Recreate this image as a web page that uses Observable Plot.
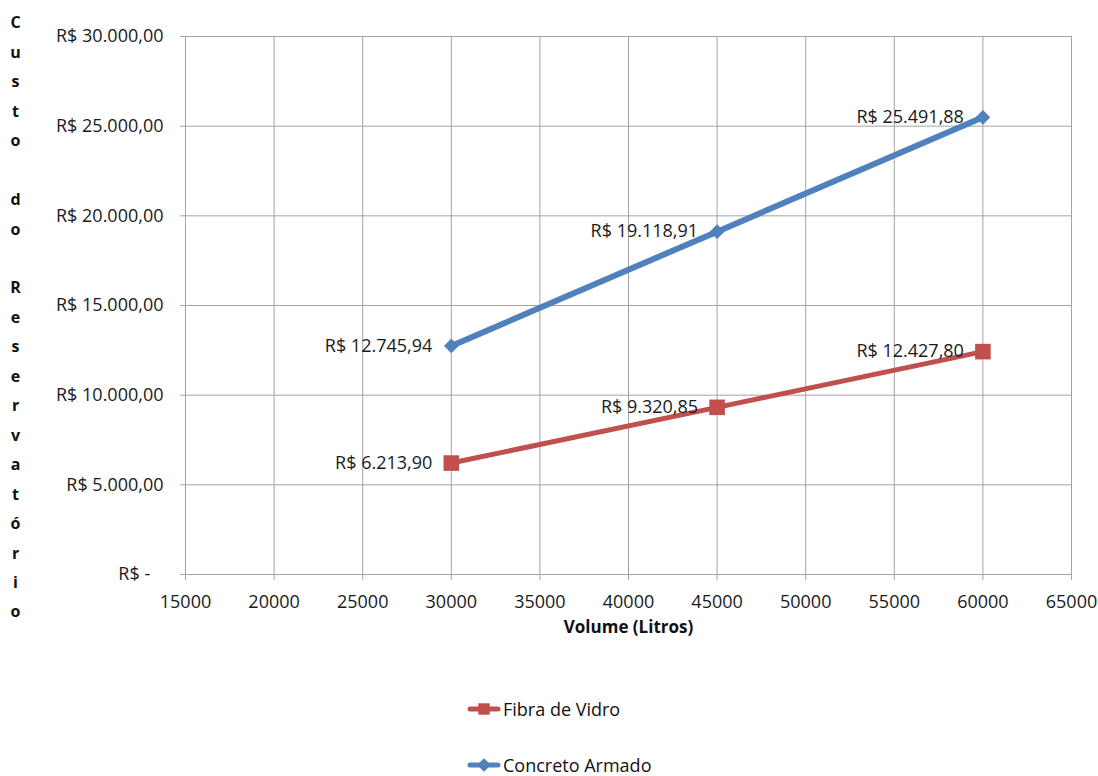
<!DOCTYPE html>
<html>
<head>
<meta charset="utf-8">
<script src="https://cdn.jsdelivr.net/npm/d3@7"></script>
<script src="https://cdn.jsdelivr.net/npm/@observablehq/plot@0.6"></script>
<style>
  html, body { margin: 0; padding: 0; background: #fff; }
  body { width: 1098px; height: 776px; overflow: hidden; font-family: "Open Sans", sans-serif; }
  #legend { position: relative; height: 126px; }
  .leg-row { position: absolute; left: 467px; display: flex; align-items: center; font-size: 18px; line-height: 24px; color: #111; }
  .leg-row svg { display: block; margin-right: 2px; }
</style>
</head>
<body>
<div id="chart"></div>
<div id="legend"></div>
<script>
// Volume of each reservoir (litres) and its cost for each material (R$)
const volumes = [30000, 45000, 60000];
const fibraDeVidro = [6213.90, 9320.85, 12427.80];
const concretoArmado = [12745.94, 19118.91, 25491.88];
const seriesNames = ["Fibra de Vidro", "Concreto Armado"];
const seriesColors = ["#C0504D", "#4F81BD"];
const xTicks = [15000, 20000, 25000, 30000, 35000, 40000, 45000, 50000, 55000, 60000, 65000];
const yTicks = [0, 5000, 10000, 15000, 20000, 25000, 30000];
const xTitle = "Volume (Litros)";
const yTitle = "Custo do Reservatório";

// Brazilian currency formatting: R$ 12.345,67
const brl = d3.formatLocale({decimal: ",", thousands: ".", grouping: [3], currency: ["R$ ", ""]});
const money = brl.format("$,.2f");
const yTickFormat = d => d === 0 ? "R$ -\u2007\u2009" : money(d);

const fibra = volumes.map((v, i) => ({series: seriesNames[0], volume: v, cost: fibraDeVidro[i]}));
const concreto = volumes.map((v, i) => ({series: seriesNames[1], volume: v, cost: concretoArmado[i]}));
const rows = [...fibra, ...concreto];

const grid = "#a3a3a3";
const ink = "#1a1a1a";

const chart = Plot.plot({
  width: 1098,
  height: 650,
  marginTop: 36,
  marginBottom: 76,
  marginLeft: 185,
  marginRight: 27,
  style: {fontFamily: "Open Sans, sans-serif", fontSize: "18px", color: ink, background: "#fff"},
  x: {domain: [15000, 65000]},
  y: {domain: [0, 30000]},
  marks: [
    Plot.gridX(xTicks, {stroke: grid, strokeOpacity: 1}),
    Plot.gridY(yTicks, {stroke: grid, strokeOpacity: 1}),
    Plot.ruleX([15000], {stroke: grid}),
    Plot.ruleY([0], {stroke: grid}),
    Plot.axisX({ticks: xTicks, tickFormat: d => String(d), tickSize: 6, tickPadding: 15, stroke: grid, fill: ink, fontSize: 18, label: null}),
    Plot.axisY({ticks: yTicks, tickFormat: yTickFormat, tickSize: 5, tickPadding: 17, stroke: grid, fill: ink, fontSize: 18, label: null}),
    Plot.line(fibra, {x: "volume", y: "cost", stroke: seriesColors[0], strokeWidth: 5}),
    Plot.line(concreto, {x: "volume", y: "cost", stroke: seriesColors[1], strokeWidth: 6}),
    Plot.dot(fibra, {x: "volume", y: "cost", symbol: "square", fill: seriesColors[0], r: 8.8}),
    Plot.dot(concreto, {x: "volume", y: "cost", symbol: "diamond2", fill: seriesColors[1], r: 6.6}),
    Plot.text(rows, {x: "volume", y: "cost", text: d => money(d.cost), textAnchor: "end", dx: -19, fill: ink, fontSize: 18}),
    Plot.text([xTitle], {frameAnchor: "bottom", dy: 58, fontWeight: "bold", fontSize: 17, fill: "#111"}),
    Plot.text([yTitle], {frameAnchor: "left", dx: -170, dy: 8, textAnchor: "middle", fontWeight: "bold", fontSize: 16,
      lineHeight: 29.45 / 16, fill: "#111", text: d => d.split("").join("\n")})
  ]
});
document.getElementById("chart").appendChild(chart);

// Legend, one series per row, swatch = line with its marker
const legend = d3.select("#legend");
const legendRows = [{name: seriesNames[0], color: seriesColors[0], symbol: d3.symbolSquare, size: 130, top: 59},
                    {name: seriesNames[1], color: seriesColors[1], symbol: d3.symbolDiamond2, size: 120, top: 115}];
for (const item of legendRows) {
  const row = legend.append("div").attr("class", "leg-row").style("top", (item.top - 12) + "px");
  const sw = row.append("svg").attr("width", 34).attr("height", 16);
  sw.append("line").attr("x1", 3).attr("x2", 31).attr("y1", 8).attr("y2", 8)
    .attr("stroke", item.color).attr("stroke-width", 5).attr("stroke-linecap", "round");
  sw.append("path").attr("transform", "translate(17,8)").attr("d", d3.symbol(item.symbol, item.size)()).attr("fill", item.color);
  row.append("span").text(item.name);
}
</script>
</body>
</html>
